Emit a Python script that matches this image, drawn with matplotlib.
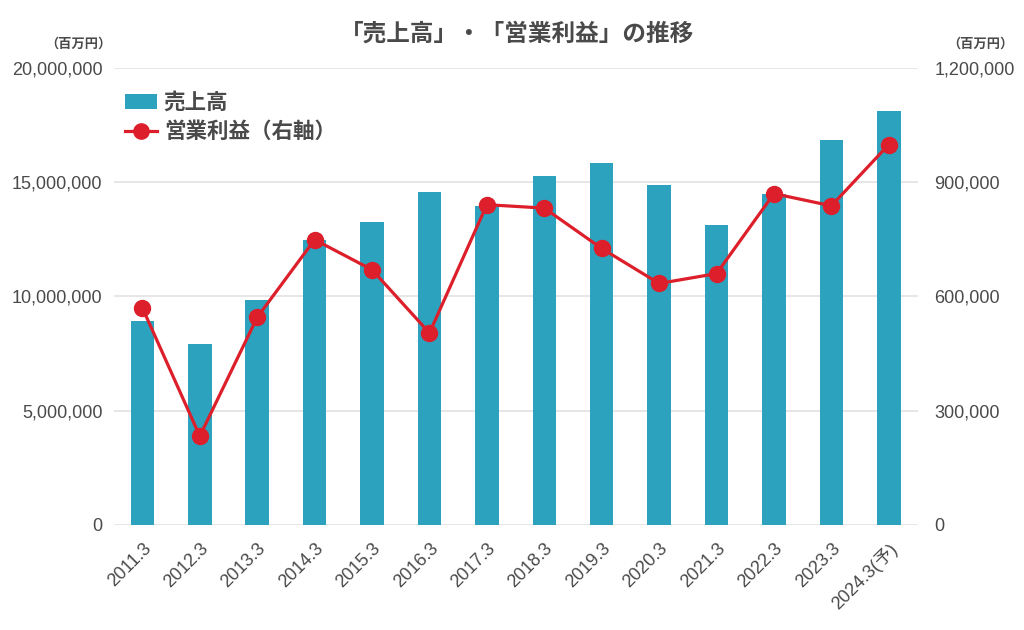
import matplotlib
matplotlib.use("Agg")
import matplotlib.pyplot as plt
from matplotlib.ticker import FuncFormatter, FixedLocator
from matplotlib.lines import Line2D
from matplotlib.patches import Patch

categories = ["2011.3", "2012.3", "2013.3", "2014.3", "2015.3", "2016.3", "2017.3",
              "2018.3", "2019.3", "2020.3", "2021.3", "2022.3", "2023.3", "2024.3(予)"]
sales = [8910000, 7930000, 9860000, 12470000, 13270000, 14570000, 13940000,
         15290000, 15840000, 14890000, 13140000, 14480000, 16860000, 18140000]
op_profit = [570000, 233000, 545000, 749000, 670000, 504000, 841000,
             832000, 726000, 634000, 660000, 870000, 838000, 999000]
left_ticks = [0, 5000000, 10000000, 15000000, 20000000]
right_ticks = [0, 300000, 600000, 900000, 1200000]

BAR = "#2ca2bf"
RED = "#dc1f2a"
TXT = "#4a4a4a"
FAM = ["Liberation Sans", "Noto Sans CJK JP"]
JFAM = ["Noto Sans CJK JP", "DejaVu Sans"]

plt.rcParams['font.family'] = FAM

fig = plt.figure(figsize=(10.24, 6.3), dpi=100)
ax = fig.add_axes([0.111, 0.167, 0.785, 0.725])
ax2 = ax.twinx()

x = list(range(len(categories)))
ax.bar(x, sales, width=0.41, color=BAR, zorder=2)
ax2.plot(x, op_profit, color=RED, lw=2.3, marker="o", markersize=11.5, zorder=3)

ax.set_xlim(-0.5, len(categories) - 0.5)
ax.set_ylim(0, 20000000)
ax2.set_ylim(0, 1200000)
ax.yaxis.set_major_locator(FixedLocator(left_ticks))
ax2.yaxis.set_major_locator(FixedLocator(right_ticks))
fmt = FuncFormatter(lambda v, p: f"{int(v):,}")
ax.yaxis.set_major_formatter(fmt)
ax2.yaxis.set_major_formatter(fmt)

ax.grid(axis="y", color="#e2e2e2", lw=1.2, zorder=0)
ax.set_axisbelow(True)
for a in (ax, ax2):
    for s in a.spines.values():
        s.set_visible(False)
    a.tick_params(length=0, labelsize=13, labelcolor=TXT)
ax.tick_params(axis="y", pad=8)
ax2.tick_params(axis="y", pad=12)

ax.set_xticks(x)
ax.set_xticklabels(categories, rotation=45, ha="right", va="top",
                   rotation_mode="anchor", fontsize=13, color=TXT)
ax.tick_params(axis="x", pad=11)

fig.text(0.505, 0.946, "「売上高」・「営業利益」の推移", ha="center", va="center",
         fontsize=17, fontweight="bold", color=TXT, family=JFAM)
fig.text(0.077, 0.930, "（百万円）", ha="center", va="center", fontsize=9.5,
         fontweight="bold", color=TXT, family=JFAM)
fig.text(0.957, 0.930, "（百万円）", ha="center", va="center", fontsize=9.5,
         fontweight="bold", color=TXT, family=JFAM)

handles = [Patch(facecolor=BAR, edgecolor="none"),
           Line2D([0], [0], color=RED, lw=2.3, marker="o", markersize=11)]
leg = fig.legend(handles, ["売上高", "営業利益（右軸）"], loc="upper left",
                 bbox_to_anchor=(125 / 1024, 1 - 92 / 630), frameon=False,
                 handlelength=1.5, handletextpad=0.3, labelspacing=0.38,
                 borderpad=0, borderaxespad=0,
                 prop={"family": JFAM, "size": 15.5, "weight": "bold"})
for t in leg.get_texts():
    t.set_color(TXT)

fig.savefig("out.png", dpi=100)
